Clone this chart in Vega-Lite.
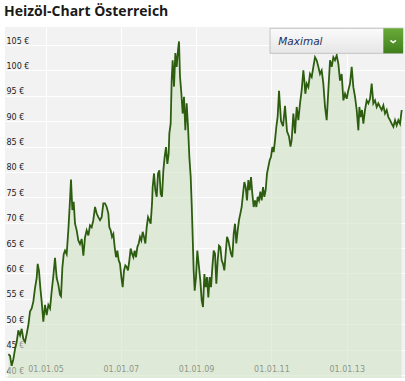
{
  "$schema": "https://vega.github.io/schema/vega-lite/v6.json",
  "width": 400,
  "height": 351,
  "autosize": {"type": "none"},
  "padding": {"left": 5, "top": 27, "right": 0, "bottom": 3},
  "background": "white",
  "title": {"text": "Heizöl-Chart Österreich", "anchor": "start", "font": "Open Sans", "fontSize": 14, "fontWeight": "bold", "color": "#1a1a1a", "offset": 8, "dx": -1},
  "config": {
    "view": {"stroke": null, "fill": "#f2f2f2"},
    "axis": {"title": null, "grid": true, "gridColor": "white", "gridWidth": 1, "domain": false, "ticks": false, "tickSize": 0,
      "labelFont": "DejaVu Sans", "labelFontSize": 8, "labelColor": "#222222", "labelOverlap": false, "labelFlush": false, "labelBound": false},
    "axisX": {"labelPadding": -9, "labelBaseline": "middle"},
    "axisY": {"labelAlign": "left", "labelPadding": -1, "labelBaseline": "bottom"}
  },
  "layer": [
    {
      "data": {"values": [
    {"t": 2004.013, "p": 44.1}, {"t": 2004.057, "p": 43.8}, {"t": 2004.101, "p": 41.8}, {"t": 2004.146, "p": 43.1},
    {"t": 2004.190, "p": 45.1}, {"t": 2004.234, "p": 46.5}, {"t": 2004.278, "p": 48.8}, {"t": 2004.323, "p": 47.8},
    {"t": 2004.367, "p": 49.1}, {"t": 2004.411, "p": 47.1}, {"t": 2004.456, "p": 46.5}, {"t": 2004.500, "p": 48.1},
    {"t": 2004.544, "p": 49.8}, {"t": 2004.588, "p": 52.5}, {"t": 2004.633, "p": 53.1}, {"t": 2004.677, "p": 54.5},
    {"t": 2004.721, "p": 57.1}, {"t": 2004.765, "p": 59.1}, {"t": 2004.792, "p": 61.9}, {"t": 2004.827, "p": 60.5},
    {"t": 2004.863, "p": 57.1}, {"t": 2004.898, "p": 54.5}, {"t": 2004.942, "p": 50.5}, {"t": 2004.987, "p": 53.8},
    {"t": 2005.031, "p": 51.8}, {"t": 2005.075, "p": 53.8}, {"t": 2005.120, "p": 53.1}, {"t": 2005.164, "p": 56.5},
    {"t": 2005.208, "p": 59.5}, {"t": 2005.252, "p": 63.1}, {"t": 2005.297, "p": 59.1}, {"t": 2005.341, "p": 57.8},
    {"t": 2005.385, "p": 55.8}, {"t": 2005.412, "p": 55.5}, {"t": 2005.447, "p": 61.1}, {"t": 2005.483, "p": 63.8},
    {"t": 2005.518, "p": 64.5}, {"t": 2005.562, "p": 63.8}, {"t": 2005.606, "p": 68.5}, {"t": 2005.651, "p": 74.5},
    {"t": 2005.677, "p": 78.5}, {"t": 2005.713, "p": 72.5}, {"t": 2005.748, "p": 74.1}, {"t": 2005.784, "p": 69.8},
    {"t": 2005.828, "p": 68.5}, {"t": 2005.872, "p": 66.5}, {"t": 2005.916, "p": 65.8}, {"t": 2005.961, "p": 66.8},
    {"t": 2006.005, "p": 63.5}, {"t": 2006.049, "p": 67.1}, {"t": 2006.093, "p": 68.5}, {"t": 2006.138, "p": 67.5},
    {"t": 2006.182, "p": 69.5}, {"t": 2006.226, "p": 69.1}, {"t": 2006.270, "p": 70.5}, {"t": 2006.315, "p": 73.1},
    {"t": 2006.359, "p": 71.8}, {"t": 2006.403, "p": 71.1}, {"t": 2006.448, "p": 70.5}, {"t": 2006.492, "p": 71.1},
    {"t": 2006.536, "p": 73.8}, {"t": 2006.580, "p": 73.8}, {"t": 2006.625, "p": 73.1}, {"t": 2006.669, "p": 71.8},
    {"t": 2006.695, "p": 69.1}, {"t": 2006.731, "p": 68.5}, {"t": 2006.766, "p": 67.2}, {"t": 2006.802, "p": 67.8},
    {"t": 2006.837, "p": 65.2}, {"t": 2006.873, "p": 63.2}, {"t": 2006.908, "p": 64.5}, {"t": 2006.944, "p": 62.6},
    {"t": 2006.979, "p": 61.9}, {"t": 2007.014, "p": 59.3}, {"t": 2007.050, "p": 57.3}, {"t": 2007.085, "p": 60.6},
    {"t": 2007.121, "p": 61.6}, {"t": 2007.156, "p": 61.3}, {"t": 2007.191, "p": 60.6}, {"t": 2007.227, "p": 62.6},
    {"t": 2007.262, "p": 64.9}, {"t": 2007.298, "p": 63.9}, {"t": 2007.333, "p": 63.2}, {"t": 2007.368, "p": 64.5},
    {"t": 2007.404, "p": 63.2}, {"t": 2007.439, "p": 65.2}, {"t": 2007.475, "p": 65.9}, {"t": 2007.510, "p": 67.2},
    {"t": 2007.545, "p": 66.5}, {"t": 2007.581, "p": 68.2}, {"t": 2007.616, "p": 67.2}, {"t": 2007.652, "p": 65.9},
    {"t": 2007.687, "p": 69.1}, {"t": 2007.723, "p": 71.1}, {"t": 2007.758, "p": 70.5}, {"t": 2007.793, "p": 69.8},
    {"t": 2007.829, "p": 73.8}, {"t": 2007.846, "p": 77.0}, {"t": 2007.882, "p": 79.7}, {"t": 2007.917, "p": 76.4},
    {"t": 2007.953, "p": 75.1}, {"t": 2007.988, "p": 79.7}, {"t": 2008.024, "p": 80.3}, {"t": 2008.059, "p": 75.7},
    {"t": 2008.094, "p": 75.1}, {"t": 2008.130, "p": 80.3}, {"t": 2008.165, "p": 83.0}, {"t": 2008.200, "p": 84.9},
    {"t": 2008.236, "p": 81.6}, {"t": 2008.271, "p": 83.6}, {"t": 2008.289, "p": 87.6}, {"t": 2008.324, "p": 89.5},
    {"t": 2008.351, "p": 98.1}, {"t": 2008.377, "p": 102.0}, {"t": 2008.413, "p": 96.8}, {"t": 2008.448, "p": 103.4},
    {"t": 2008.484, "p": 100.7}, {"t": 2008.519, "p": 104.0}, {"t": 2008.546, "p": 105.7}, {"t": 2008.572, "p": 98.8},
    {"t": 2008.608, "p": 95.5}, {"t": 2008.643, "p": 91.5}, {"t": 2008.678, "p": 94.8}, {"t": 2008.714, "p": 88.2},
    {"t": 2008.749, "p": 93.5}, {"t": 2008.785, "p": 88.9}, {"t": 2008.820, "p": 83.0}, {"t": 2008.856, "p": 79.0},
    {"t": 2008.882, "p": 73.8}, {"t": 2008.909, "p": 67.2}, {"t": 2008.935, "p": 60.6}, {"t": 2008.962, "p": 56.6},
    {"t": 2008.997, "p": 59.3}, {"t": 2009.032, "p": 64.5}, {"t": 2009.068, "p": 61.9}, {"t": 2009.112, "p": 58.6},
    {"t": 2009.148, "p": 54.7}, {"t": 2009.183, "p": 53.4}, {"t": 2009.219, "p": 59.9}, {"t": 2009.254, "p": 57.3},
    {"t": 2009.289, "p": 59.3}, {"t": 2009.325, "p": 55.3}, {"t": 2009.360, "p": 59.3}, {"t": 2009.396, "p": 57.3},
    {"t": 2009.431, "p": 61.2}, {"t": 2009.467, "p": 64.5}, {"t": 2009.502, "p": 63.9}, {"t": 2009.537, "p": 58.0},
    {"t": 2009.573, "p": 62.6}, {"t": 2009.608, "p": 65.5}, {"t": 2009.644, "p": 65.2}, {"t": 2009.679, "p": 62.6},
    {"t": 2009.714, "p": 61.9}, {"t": 2009.750, "p": 60.6}, {"t": 2009.785, "p": 63.9}, {"t": 2009.821, "p": 67.2},
    {"t": 2009.856, "p": 66.5}, {"t": 2009.891, "p": 65.2}, {"t": 2009.927, "p": 63.9}, {"t": 2009.962, "p": 63.2},
    {"t": 2009.998, "p": 67.8}, {"t": 2010.033, "p": 69.8}, {"t": 2010.068, "p": 65.9}, {"t": 2010.104, "p": 68.5},
    {"t": 2010.139, "p": 70.5}, {"t": 2010.175, "p": 71.8}, {"t": 2010.210, "p": 73.1}, {"t": 2010.246, "p": 75.7},
    {"t": 2010.281, "p": 78.0}, {"t": 2010.316, "p": 77.0}, {"t": 2010.352, "p": 74.4}, {"t": 2010.387, "p": 78.4},
    {"t": 2010.423, "p": 76.4}, {"t": 2010.458, "p": 79.0}, {"t": 2010.493, "p": 75.7}, {"t": 2010.529, "p": 73.1},
    {"t": 2010.564, "p": 74.4}, {"t": 2010.600, "p": 73.1}, {"t": 2010.635, "p": 75.1}, {"t": 2010.670, "p": 74.4},
    {"t": 2010.706, "p": 76.1}, {"t": 2010.741, "p": 74.4}, {"t": 2010.777, "p": 77.0}, {"t": 2010.812, "p": 75.1},
    {"t": 2010.847, "p": 76.4}, {"t": 2010.883, "p": 79.7}, {"t": 2010.918, "p": 81.0}, {"t": 2010.954, "p": 82.3},
    {"t": 2010.989, "p": 83.0}, {"t": 2011.025, "p": 84.9}, {"t": 2011.060, "p": 83.9}, {"t": 2011.095, "p": 86.2},
    {"t": 2011.131, "p": 88.9}, {"t": 2011.166, "p": 90.9}, {"t": 2011.202, "p": 96.0}, {"t": 2011.255, "p": 90.0},
    {"t": 2011.308, "p": 89.0}, {"t": 2011.361, "p": 93.0}, {"t": 2011.414, "p": 88.0}, {"t": 2011.467, "p": 87.0},
    {"t": 2011.507, "p": 85.0}, {"t": 2011.538, "p": 86.3}, {"t": 2011.583, "p": 91.5}, {"t": 2011.627, "p": 87.6},
    {"t": 2011.671, "p": 92.8}, {"t": 2011.715, "p": 90.2}, {"t": 2011.760, "p": 93.5}, {"t": 2011.804, "p": 96.1},
    {"t": 2011.848, "p": 100.0}, {"t": 2011.875, "p": 98.0}, {"t": 2011.901, "p": 95.4}, {"t": 2011.937, "p": 97.4},
    {"t": 2011.981, "p": 96.7}, {"t": 2012.025, "p": 99.3}, {"t": 2012.070, "p": 98.7}, {"t": 2012.114, "p": 100.7},
    {"t": 2012.158, "p": 102.6}, {"t": 2012.202, "p": 102.0}, {"t": 2012.247, "p": 100.7}, {"t": 2012.291, "p": 99.3},
    {"t": 2012.335, "p": 100.0}, {"t": 2012.379, "p": 97.4}, {"t": 2012.424, "p": 92.8}, {"t": 2012.468, "p": 90.2},
    {"t": 2012.512, "p": 96.1}, {"t": 2012.557, "p": 102.0}, {"t": 2012.601, "p": 100.7}, {"t": 2012.645, "p": 102.6},
    {"t": 2012.689, "p": 102.0}, {"t": 2012.734, "p": 103.0}, {"t": 2012.778, "p": 101.3}, {"t": 2012.822, "p": 98.0},
    {"t": 2012.866, "p": 99.3}, {"t": 2012.911, "p": 94.1}, {"t": 2012.955, "p": 95.4}, {"t": 2012.999, "p": 94.4},
    {"t": 2013.043, "p": 96.1}, {"t": 2013.088, "p": 97.4}, {"t": 2013.132, "p": 100.7}, {"t": 2013.176, "p": 96.7},
    {"t": 2013.221, "p": 94.8}, {"t": 2013.265, "p": 92.2}, {"t": 2013.309, "p": 88.2}, {"t": 2013.336, "p": 92.8},
    {"t": 2013.371, "p": 90.8}, {"t": 2013.406, "p": 92.2}, {"t": 2013.442, "p": 89.5}, {"t": 2013.486, "p": 92.2},
    {"t": 2013.530, "p": 94.1}, {"t": 2013.575, "p": 93.5}, {"t": 2013.619, "p": 94.4}, {"t": 2013.663, "p": 97.4},
    {"t": 2013.707, "p": 93.5}, {"t": 2013.752, "p": 94.1}, {"t": 2013.796, "p": 92.8}, {"t": 2013.840, "p": 93.5},
    {"t": 2013.884, "p": 92.8}, {"t": 2013.929, "p": 92.2}, {"t": 2013.973, "p": 93.1}, {"t": 2014.017, "p": 91.5},
    {"t": 2014.062, "p": 92.2}, {"t": 2014.106, "p": 90.8}, {"t": 2014.150, "p": 90.2}, {"t": 2014.194, "p": 89.5},
    {"t": 2014.239, "p": 88.9}, {"t": 2014.283, "p": 90.2}, {"t": 2014.327, "p": 89.2}, {"t": 2014.371, "p": 90.2},
    {"t": 2014.416, "p": 89.5}, {"t": 2014.460, "p": 92.2}
      ]},
      "encoding": {
        "x": {"field": "t", "type": "quantitative",
          "scale": {"domain": [2003.924, 2014.548], "nice": false, "zero": false},
          "axis": {"values": [2005, 2007, 2009, 2011, 2013], "labelExpr": "'01.01.' + slice(toString(datum.value), 2)"}},
        "y": {"field": "p", "type": "quantitative",
          "scale": {"domain": [39.41, 108.55], "nice": false, "zero": false},
          "axis": {"values": [40, 45, 50, 55, 60, 65, 70, 75, 80, 85, 90, 95, 100, 105], "labelExpr": "datum.value + ' €'"}}
      },
      "layer": [
        {"mark": {"type": "area", "color": "#d2e2c6", "opacity": 0.6, "clip": true}},
        {"mark": {"type": "line", "color": "#2d5e10", "strokeWidth": 1.8, "clip": true}}
      ]
    },
    {
      "data": {"values": [{"label": "Maximal"}]},
      "layer": [
        {
          "mark": {"type": "rect", "stroke": "#c4c4c4", "strokeWidth": 1,
            "fill": {"gradient": "linear", "x1": 0, "y1": 0, "x2": 0, "y2": 1, "stops": [{"offset": 0, "color": "#fbfbfb"}, {"offset": 1, "color": "#e6e6e6"}]}},
          "encoding": {
            "x": {"datum": 2010.963, "type": "quantitative", "axis": {"values": [2005, 2007, 2009, 2011, 2013], "labelExpr": "'01.01.' + slice(toString(datum.value), 2)"}},
            "x2": {"datum": 2014.495},
            "y": {"datum": 108.29, "type": "quantitative", "axis": {"values": [40, 45, 50, 55, 60, 65, 70, 75, 80, 85, 90, 95, 100, 105], "labelExpr": "datum.value + ' €'"}},
            "y2": {"datum": 103.36}
          }
        },
        {
          "mark": {"type": "rect",
            "fill": {"gradient": "linear", "x1": 0, "y1": 0, "x2": 0, "y2": 1, "stops": [{"offset": 0, "color": "#6aaa3a"}, {"offset": 1, "color": "#3f7f1c"}]}},
          "encoding": {
            "x": {"datum": 2013.972, "type": "quantitative", "axis": {"values": [2005, 2007, 2009, 2011, 2013], "labelExpr": "'01.01.' + slice(toString(datum.value), 2)"}},
            "x2": {"datum": 2014.495},
            "y": {"datum": 108.29, "type": "quantitative", "axis": {"values": [40, 45, 50, 55, 60, 65, 70, 75, 80, 85, 90, 95, 100, 105], "labelExpr": "datum.value + ' €'"}},
            "y2": {"datum": 103.36}
          }
        },
        {
          "mark": {"type": "text", "align": "left", "baseline": "middle", "font": "DejaVu Sans", "fontSize": 10.5, "fontStyle": "italic", "fill": "#1f2f5f"},
          "encoding": {
            "text": {"field": "label"},
            "x": {"datum": 2011.183, "type": "quantitative", "axis": {"values": [2005, 2007, 2009, 2011, 2013], "labelExpr": "'01.01.' + slice(toString(datum.value), 2)"}},
            "y": {"datum": 105.65, "type": "quantitative", "axis": {"values": [40, 45, 50, 55, 60, 65, 70, 75, 80, 85, 90, 95, 100, 105], "labelExpr": "datum.value + ' €'"}}
          }
        },
        {
          "mark": {"type": "point", "shape": "M-1,-0.4L0,0.4L1,-0.4", "filled": false, "stroke": "white", "strokeWidth": 1.5, "size": 30, "opacity": 1},
          "encoding": {
            "x": {"datum": 2014.234, "type": "quantitative", "axis": {"values": [2005, 2007, 2009, 2011, 2013], "labelExpr": "'01.01.' + slice(toString(datum.value), 2)"}},
            "y": {"datum": 105.7, "type": "quantitative", "axis": {"values": [40, 45, 50, 55, 60, 65, 70, 75, 80, 85, 90, 95, 100, 105], "labelExpr": "datum.value + ' €'"}}
          }
        }
      ]
    }
  ]
}
